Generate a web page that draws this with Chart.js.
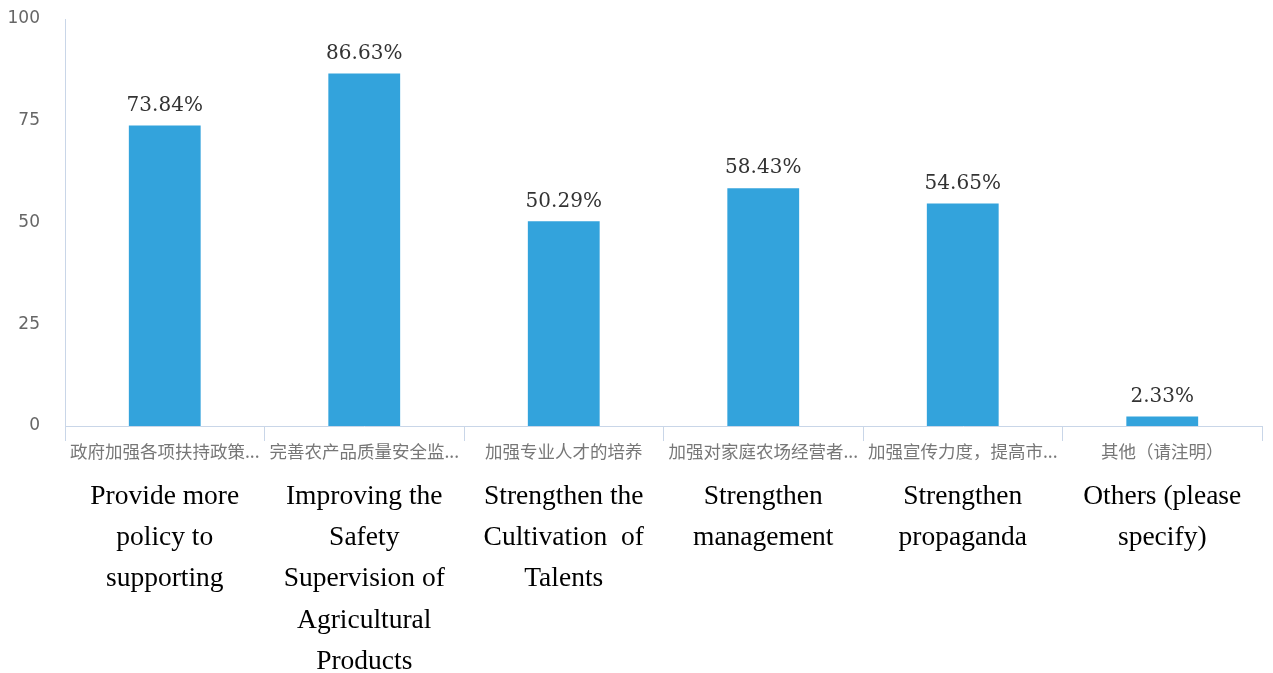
<!DOCTYPE html>
<html>
<head>
<meta charset="utf-8">
<script src="https://cdn.jsdelivr.net/npm/chart.js@4.4.1/dist/chart.umd.min.js"></script>
<style>
  body { margin: 0; background: #fff; }
</style>
</head>
<body>
<canvas id="grafico" width="1273" height="673"></canvas>
<script>
var categorie = ['政府加强各项扶持政策...', '完善农产品质量安全监...', '加强专业人才的培养', '加强对家庭农场经营者...', '加强宣传力度，提高市...', '其他（请注明）'];
var etichetteEn = [
  ['Provide more', 'policy to', 'supporting'],
  ['Improving the', 'Safety', 'Supervision of', 'Agricultural', 'Products'],
  ['Strengthen the', 'Cultivation  of', 'Talents'],
  ['Strengthen', 'management'],
  ['Strengthen', 'propaganda'],
  ['Others (please', 'specify)']
];
var valori = [73.84, 86.63, 50.29, 58.43, 54.65, 2.33];
var tickY = [0, 25, 50, 75, 100];

var etichetteValori = {
  id: 'etichetteValori',
  afterDatasetsDraw: function(chart) {
    var ctx = chart.ctx;
    var meta = chart.getDatasetMeta(0);
    ctx.save();
    ctx.font = "20px 'DejaVu Serif'";
    ctx.fillStyle = '#333';
    ctx.textAlign = 'center';
    ctx.textBaseline = 'middle';
    for (var i = 0; i < meta.data.length; i++) {
      var bar = meta.data[i];
      ctx.fillText(valori[i].toFixed(2) + '%', bar.x, bar.y - 20);
    }
    ctx.restore();
  }
};

var ctx = document.getElementById('grafico');
var chart = new Chart(ctx, {
  type: 'bar',
  data: {
    labels: categorie,
    datasets: [{
      data: valori,
      backgroundColor: '#33a3dc',
      categoryPercentage: 1,
      barPercentage: 0.36,
      xAxisID: 'x',
      yAxisID: 'y'
    }]
  },
  options: {
    responsive: false,
    animation: false,
    layout: { padding: { top: 19, right: 11, left: 0, bottom: 0 } },
    plugins: { legend: { display: false }, tooltip: { enabled: false } },
    scales: {
      x: {
        type: 'category',
        position: 'bottom',
        weight: 0,
        offset: true,
        grid: { offset: true, drawOnChartArea: false, drawTicks: true, tickLength: 15, color: '#c9d6e8' },
        border: { color: '#c9d6e8' },
        ticks: { color: '#777', font: { family: "'Noto Sans CJK SC'", size: 17.5 }, padding: 0, maxRotation: 0, autoSkip: false },
        afterFit: function(scale) { scale.height = 40; }
      },
      x2: {
        type: 'category',
        position: 'bottom',
        weight: 1,
        labels: etichetteEn,
        offset: true,
        grid: { display: false },
        border: { display: false },
        ticks: { color: '#000', font: { family: "'Liberation Serif'", size: 27.5, lineHeight: 1.5 }, padding: 2, maxRotation: 0, autoSkip: false },
        afterFit: function(scale) { scale.height = 207; }
      },
      y: {
        min: 0,
        max: 100,
        afterBuildTicks: function(scale) {
          scale.ticks = tickY.map(function(v) { return { value: v }; });
        },
        grid: { display: false },
        border: { color: '#c9d6e8' },
        ticks: { color: '#666', font: { family: "'DejaVu Sans'", size: 17 }, padding: 17 },
        afterFit: function(scale) { scale.width = 65; scale.paddingTop = 0; scale.paddingBottom = 0; }
      }
    }
  },
  plugins: [etichetteValori]
});
</script>
</body>
</html>
